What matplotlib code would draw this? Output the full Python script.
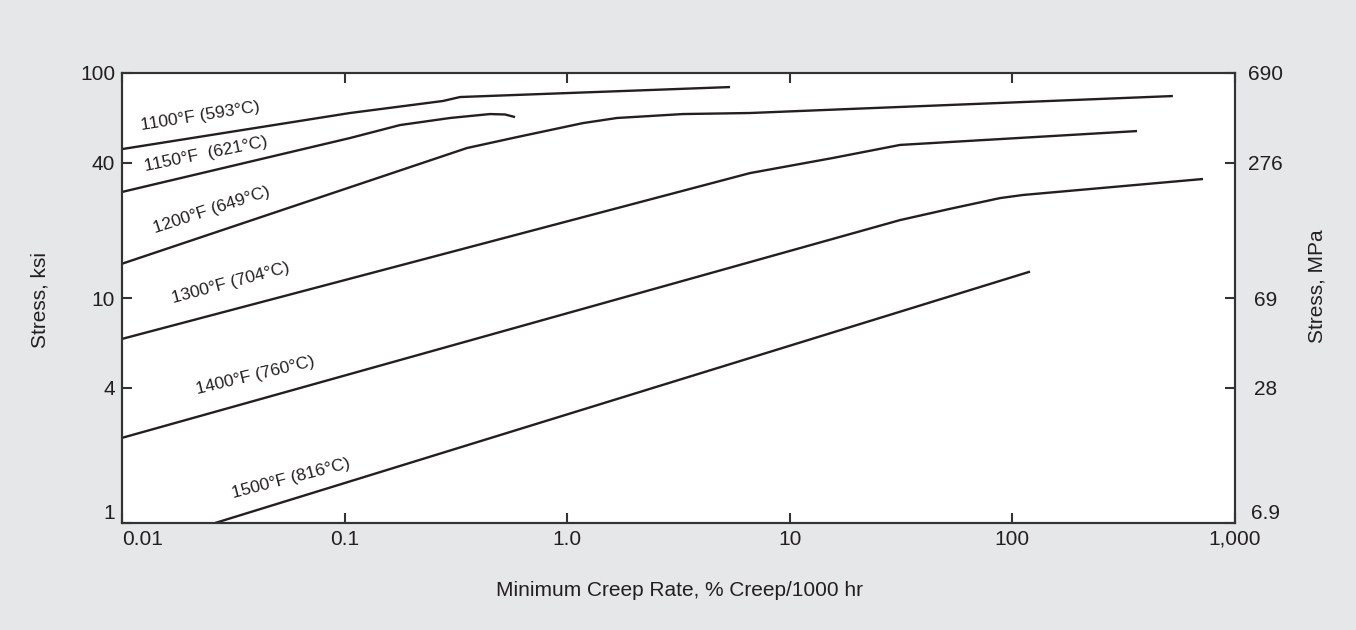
import matplotlib
matplotlib.use("Agg")
import matplotlib.pyplot as plt
from matplotlib.ticker import FixedLocator, NullLocator

plt.rcParams['font.family'] = ['Liberation Sans', 'DejaVu Sans']

# ---- data ----
curve_names = ["1100°F (593°C)", "1150°F  (621°C)", "1200°F (649°C)",
               "1300°F (704°C)", "1400°F (760°C)", "1500°F (816°C)"]

rate_1100 = [0.01, 0.1057, 0.2767, 0.330, 5.39]
stress_1100 = [45.9, 66.4, 75.1, 78.2, 86.6]

rate_1150 = [0.01, 0.1057, 0.1774, 0.2975, 0.450, 0.526, 0.583]
stress_1150 = [29.6, 51.4, 58.7, 63.1, 65.7, 65.4, 63.7]

rate_1200 = [0.01, 0.3546, 0.595, 1.178, 1.674, 3.31, 6.62, 18.6, 526]
stress_1200 = [14.2, 46.4, 51.9, 59.9, 63.1, 65.7, 66.4, 69.2, 79.0]

rate_1300 = [0.01, 6.62, 15.6, 31.3, 363]
stress_1300 = [6.58, 35.9, 41.9, 47.9, 55.2]

rate_1400 = [0.01, 31.3, 52.4, 88.0, 111.6, 718]
stress_1400 = [2.39, 22.2, 24.9, 27.8, 28.7, 33.8]

rate_1500 = [0.0262, 120]
stress_1500 = [1.0, 13.1]

x_ticks = [0.01, 0.1, 1.0, 10, 100, 1000]
x_tick_labels = ["0.01", "0.1", "1.0", "10", "100", "1,000"]
ksi_ticks = [1, 4, 10, 40, 100]
ksi_tick_labels = ["1", "4", "10", "40", "100"]
mpa_tick_labels = ["6.9", "28", "69", "276", "690"]
KSI_TO_MPA = 6.895

series = [(rate_1100, stress_1100), (rate_1150, stress_1150), (rate_1200, stress_1200),
          (rate_1300, stress_1300), (rate_1400, stress_1400), (rate_1500, stress_1500)]

# label placement (axes fraction) and rotation
label_pos = [(0.0701, 0.904), (0.0755, 0.820), (0.0809, 0.696),
             (0.0980, 0.533), (0.1195, 0.327), (0.1520, 0.100)]
label_rot = [9, 11.5, 18, 15, 13.5, 14.5]

bg = '#e6e7e9'
ink = '#231f20'
fig = plt.figure(figsize=(13.56, 6.30), dpi=100, facecolor=bg)
ax = fig.add_axes([122/1356, (630-523)/630, (1235-122)/1356, 450/630])
ax.set_facecolor('white')
ax.set_xscale('log')
ax.set_yscale('log')
ax.set_xlim(0.01, 1000)
ax.set_ylim(1, 100)

for (xs, ys) in series:
    ax.plot(xs, ys, color=ink, lw=1.7, solid_capstyle='butt', solid_joinstyle='round')

for name, (fx, fy), rot in zip(curve_names, label_pos, label_rot):
    ax.text(fx, fy, name, transform=ax.transAxes, rotation=rot, rotation_mode='anchor',
            ha='center', va='center', fontsize=12.6, color=ink)

for sp in ax.spines.values():
    sp.set_linewidth(1.5)
    sp.set_color('#333333')

ax.xaxis.set_major_locator(FixedLocator(x_ticks))
ax.xaxis.set_minor_locator(NullLocator())
ax.set_xticklabels(x_tick_labels)
ax.yaxis.set_major_locator(FixedLocator(ksi_ticks))
ax.yaxis.set_minor_locator(NullLocator())
ax.set_yticklabels(ksi_tick_labels)
ax.tick_params(axis='both', which='major', direction='in', length=7, width=1.5,
               color='#333333', labelsize=15, labelcolor=ink, pad=5,
               top=True, right=False)

xl = ax.get_xticklabels()
xl[0].set_ha('left')
yl = ax.get_yticklabels()
yl[0].set_va('bottom')

ax2 = ax.twinx()
ax2.set_yscale('log')
ax2.set_ylim(1*KSI_TO_MPA, 100*KSI_TO_MPA)
ax2.yaxis.set_major_locator(FixedLocator([t*KSI_TO_MPA for t in ksi_ticks]))
ax2.yaxis.set_minor_locator(NullLocator())
ax2.set_yticklabels(mpa_tick_labels)
ax2.tick_params(axis='y', which='major', direction='in', length=7, width=1.5,
                color='#333333', labelsize=15, labelcolor=ink, pad=22)
for lbl in ax2.get_yticklabels():
    lbl.set_ha('center')
ax2.get_yticklabels()[0].set_va('bottom')
for sp in ax2.spines.values():
    sp.set_linewidth(1.5)
    sp.set_color('#333333')

fig.text(40/1356, (630-300)/630, "Stress, ksi", rotation=90, ha='center', va='center',
         fontsize=15, color=ink)
fig.text(1317/1356, (630-286)/630, "Stress, MPa", rotation=90, ha='center', va='center',
         fontsize=15, color=ink)
fig.text(679/1356, (630-590)/630, "Minimum Creep Rate, % Creep/1000 hr", ha='center',
         va='center', fontsize=15, color=ink)

fig.savefig("out.png", dpi=100, facecolor=bg)
